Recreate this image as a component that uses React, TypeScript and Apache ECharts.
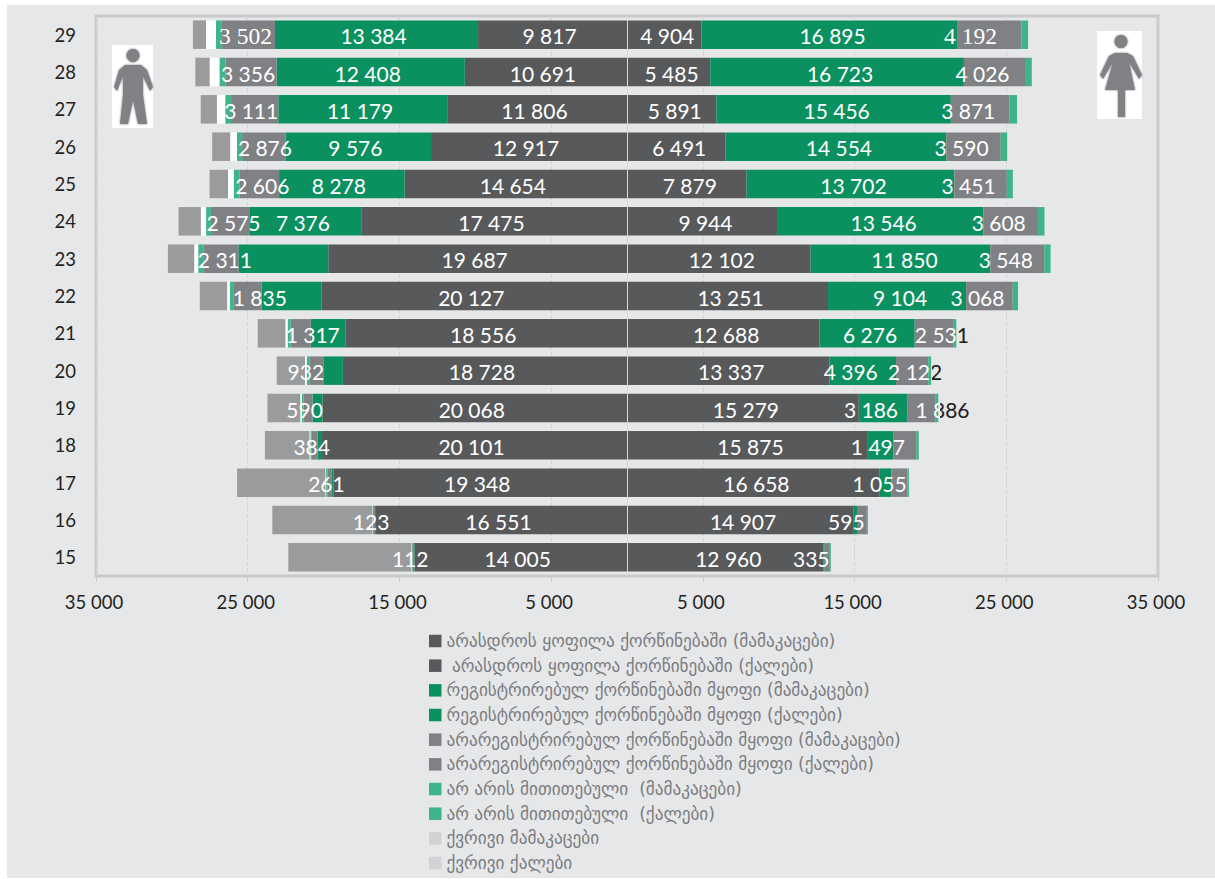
import React, { useEffect, useRef } from "react";
import * as echarts from "echarts";

const ages = ["29","28","27","26","25","24","23","22","21","20","19","18","17","16","15"];

const menNever = [9817,10691,11806,12917,14654,17475,19687,20127,18556,18728,20068,20101,19348,16551,14005];
const menRegistered = [13384,12408,11179,9576,8278,7376,5925,3950,2293,1248,659,295,136,60,30];
const menUnregistered = [3502,3356,3111,2876,2606,2575,2311,1835,1317,932,590,384,261,123,112];
const menUnspecified = [386,409,386,340,386,318,340,272,204,204,113,91,91,40,30];
const menBlank = [659,635,545,431,363,340,250,159,130,113,91,45,30,20,20];
const menWidowed = [862,953,1067,1203,1226,1476,1748,1816,1839,1861,2179,2951,5833,6583,8126];

const womenNever = [4904,5485,5891,6491,7879,9944,12102,13251,12688,13337,15279,15875,16658,14907,12960];
const womenRegistered = [16895,16723,15456,14554,13702,13546,11850,9104,6276,4396,3186,1694,777,306,70];
const womenUnregistered = [4192,4026,3871,3590,3451,3608,3548,3068,2531,2122,1886,1497,1055,595,335];
const womenUnspecified = [447,447,494,423,400,423,423,353,212,188,165,165,94,70,70];
const womenWidowed: number[] = [];

const legendNames = [
  "არასდროს ყოფილა ქორწინებაში (მამაკაცები)",
  " არასდროს ყოფილა ქორწინებაში (ქალები)",
  "რეგისტრირებულ ქორწინებაში მყოფი (მამაკაცები)",
  "რეგისტრირებულ ქორწინებაში მყოფი (ქალები)",
  "არარეგისტრირებულ ქორწინებაში მყოფი (მამაკაცები)",
  "არარეგისტრირებულ ქორწინებაში მყოფი (ქალები)",
  "არ არის მითითებული  (მამაკაცები)",
  "არ არის მითითებული  (ქალები)",
  "ქვრივი მამაკაცები",
  "ქვრივი ქალები",
];

// horizontal label nudges (px); null = the segment carries no label
const menNeverNudge = ages.map(() => -3);
const womenNeverNudge = ages.map(() => 3);
const menRegNudge = [-3,-3,-3,-3,-3,-3,null,null,null,null,null,null,null,null,null];
const womenRegNudge = [3,3,3,3,3,3,4,3,3,-12,-12,null,null,null,null];
const menUnregNudge = [-3,-3,-3.5,1,3,3,4,12,12,-11,-3.5,-3,-3,-3,-3];
const womenUnregNudge = [-19,-12,-12,-12,-12,-12,-11.5,-12,8,3,21,-27,-20,-16,-16];

// labels that run off the end of their bar: white on the bar, dark beyond it
const splitLabels: Record<string, [string, number]> = {
  "2 531": ["split-a", 0.77],
  "2 122": ["split-b", 0.81],
  "1 886": ["split-c", 0.45],
};

const NEVER = "#58595B";
const REG = "#0B9060";
const UNREG = "#808184";
const UNSPEC = "#3DB489";
const WIDOW_BAR = "#9A9B9D";
const WIDOW_KEY = "#D1D2D4";
const BG = "#E6E7E9";
const FRAME = "#C9CACC";
const INK = "#231F20";

const fmt = (v: number) => String(Math.abs(v)).replace(/\B(?=(\d{3})+$)/g, " ");

function items(values: number[], sign: number, nudge?: (number | null)[], extra?: (i: number) => any) {
  return values.map((v, i) => {
    const n = nudge ? nudge[i] : null;
    if (n === null || n === undefined) return { value: sign * v, label: { show: false } };
    return { value: sign * v, label: { show: true, ...(extra ? extra(i) : {}) } };
  });
}

function bar(name: string, color: string, data: any[], nudge?: (number | null)[], z = 2) {
  return {
    name,
    type: "bar",
    stack: "pyramid",
    barWidth: 28.5,
    z,
    itemStyle: { color },
    label: {
      position: "inside",
      color: "#fff",
      fontFamily: "Lato",
      fontSize: 21,
      formatter: (p: any) => fmt(p.value),
    },
    labelLayout: (p: any) => ({ dx: (nudge && nudge[p.dataIndex]) || 0, dy: 1, hideOverlap: false }),
    data,
  };
}

const manPath =
  "M133 49 a6.5 6.5 0 1 1 -0.01 0 Z M125 65 L141 65 L147 70 L153 87 L150 91 L143 76 L143 95 L147 124 L138 124 L133 100 L128 124 L120 124 L123 95 L123 76 L117 91 L114 87 L119 70 Z";
const womanPath =
  "M1121 35 a6.5 6.5 0 1 1 -0.01 0 Z M1115 53 L1127 53 L1133 56 L1142 75 L1139 79 L1129 62 L1135 90 L1125 90 L1125 117 L1118 117 L1118 90 L1105 90 L1113 62 L1103 79 L1100 75 L1109 56 Z";
echarts.graphic.registerShape("manIcon", echarts.graphic.extendPath(manPath, {} as any) as any);
echarts.graphic.registerShape("womanIcon", echarts.graphic.extendPath(womanPath, {} as any) as any);

const serifFirst = (i: number) => (i === 0 ? { fontFamily: "Liberation Serif", fontSize: 23.5 } : {});
const iconStyle = { fill: "#808184", shadowBlur: 2, shadowColor: "#808184" };

export default function App() {
  const ref = useRef<HTMLDivElement>(null);
  useEffect(() => {
    document.body.style.margin = "0";
    document.body.style.background = "#fff";
    const chart = echarts.init(ref.current!, null, { renderer: "svg" });
    chart.setOption({
      animation: false,
      grid: {
        show: true,
        left: 96,
        right: 57,
        top: 16,
        bottom: 303,
        backgroundColor: "transparent",
        borderColor: FRAME,
        borderWidth: 3,
      },
      xAxis: {
        type: "value",
        min: -35000,
        max: 35000,
        interval: 10000,
        position: "bottom",
        axisLine: { show: false },
        axisTick: { show: true, length: 5, lineStyle: { color: FRAME, width: 1 } },
        splitLine: { show: true, lineStyle: { color: "#D3D4D6", type: "dashed", width: 1 } },
        axisLabel: {
          color: INK,
          fontFamily: "Lato",
          fontSize: 18.5,
          margin: 16,
          padding: [0, 4, 0, 0],
          formatter: (v: number) => fmt(v),
        },
      },
      yAxis: [
        {
          type: "category",
          inverse: true,
          data: ages,
          z: 6,
          axisLine: { show: true, onZero: true, lineStyle: { color: "#D8D9DB", width: 1 } },
          axisTick: { show: false },
          axisLabel: { show: false },
        },
        {
          type: "category",
          inverse: true,
          position: "left",
          data: ages,
          axisLine: { show: false, onZero: false },
          axisTick: { show: false },
          axisLabel: { color: INK, fontFamily: "Lato", fontSize: 18.5, margin: 20 },
        },
      ],
      legend: {
        orient: "vertical",
        left: 429,
        top: 632.5,
        padding: 0,
        itemWidth: 12.5,
        itemHeight: 12.5,
        itemGap: 7.67,
        icon: "rect",
        textStyle: { color: "#7B7C7F", fontFamily: "DejaVu Sans", fontSize: 17.2, height: 17, lineHeight: 17 },
        data: legendNames.map((name, i) => ({
          name,
          itemStyle: { color: [NEVER, NEVER, REG, REG, UNREG, UNREG, UNSPEC, UNSPEC, WIDOW_KEY, WIDOW_KEY][i] },
        })),
      },
      series: [
        bar(legendNames[0], NEVER, items(menNever, -1, menNeverNudge), menNeverNudge),
        bar(legendNames[1], NEVER, items(womenNever, 1, womenNeverNudge), womenNeverNudge),
        bar(legendNames[2], REG, items(menRegistered, -1, menRegNudge), menRegNudge),
        bar(legendNames[3], REG, items(womenRegistered, 1, womenRegNudge), womenRegNudge),
        bar(legendNames[4], UNREG, items(menUnregistered, -1, menUnregNudge, serifFirst), menUnregNudge),
        bar(legendNames[5], UNREG, items(womenUnregistered, 1, womenUnregNudge, serifFirst), womenUnregNudge),
        bar(legendNames[6], UNSPEC, items(menUnspecified, -1)),
        bar(legendNames[7], UNSPEC, items(womenUnspecified, 1)),
        bar("blank", "#FFFFFF", items(menBlank, -1)),
        bar(legendNames[8], WIDOW_BAR, items(menWidowed, -1), undefined, 1),
        bar(legendNames[9], WIDOW_KEY, items(womenWidowed, 1)),
      ],
      graphic: [
        { type: "rect", shape: { x: 112, y: 45, width: 41, height: 83 }, style: { fill: "#fff" }, z: 10 },
        { type: "manIcon", x: 0, y: 0, style: iconStyle, z: 11 },
        { type: "rect", shape: { x: 1097, y: 31, width: 45, height: 88 }, style: { fill: "#fff" }, z: 10 },
        { type: "womanIcon", x: 0, y: 0, style: iconStyle, z: 11 },
      ],
    });
    const paintSplits = () => {
      ref.current?.querySelectorAll("text").forEach((t) => {
        const s = splitLabels[(t.textContent || "").trim()];
        if (s) t.setAttribute("fill", `url(#${s[0]})`);
      });
    };
    paintSplits();
    chart.on("finished", paintSplits);
    return () => chart.dispose();
  }, []);
  return (
    <div style={{ position: "absolute", left: 0, top: 0, width: 1215, height: 879, background: "#fff" }}>
      <div style={{ position: "absolute", left: 7, top: 5, width: 1208, height: 873, background: BG }} />
      <svg width={0} height={0} style={{ position: "absolute" }}>
        <defs>
          {Object.values(splitLabels).map(([id, f]) => (
            <linearGradient key={id} id={id} x1="0" y1="0" x2="1" y2="0">
              <stop offset={f} stopColor="#fff" />
              <stop offset={f} stopColor={INK} />
            </linearGradient>
          ))}
        </defs>
      </svg>
      <div ref={ref} style={{ position: "absolute", left: 0, top: 0, width: 1215, height: 879 }} />
    </div>
  );
}
